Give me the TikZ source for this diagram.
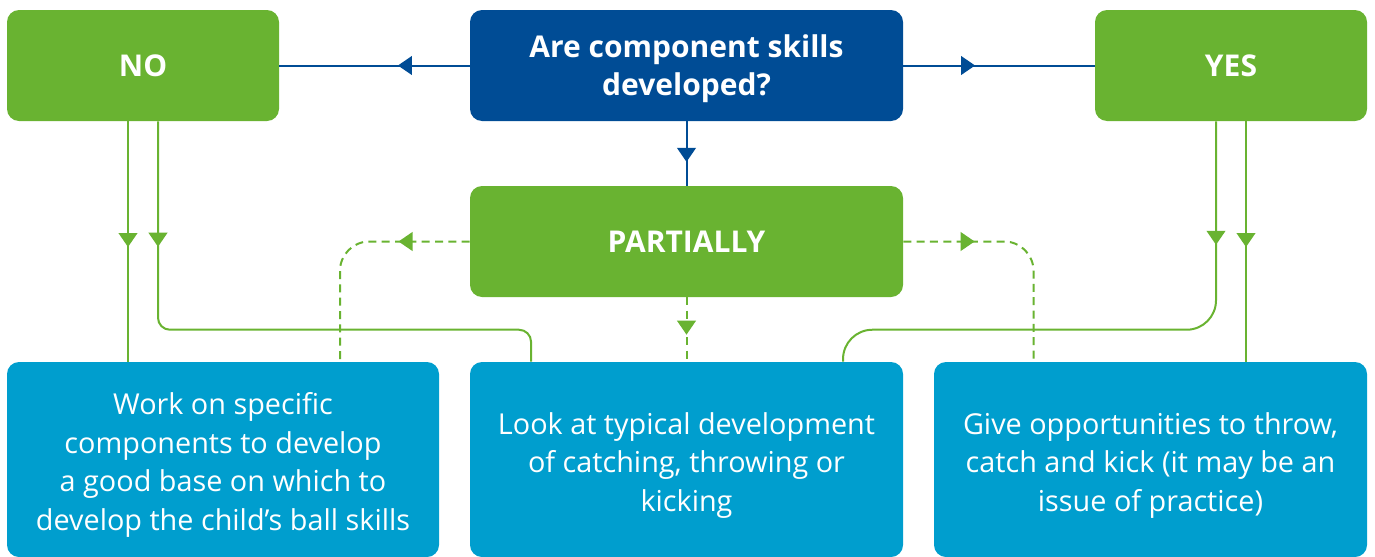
\documentclass[tikz,border=0pt]{standalone}
\usepackage{fontspec}
\setmainfont{Open Sans}
\usetikzlibrary{positioning}
\usetikzlibrary{arrows.meta}
\usetikzlibrary{decorations.markings}
\definecolor{leafgreen}{HTML}{69B331}
\definecolor{linegreen}{HTML}{8DC35B}
\definecolor{navyblue}{HTML}{004C95}
\definecolor{lineblue}{HTML}{1F4F9B}
\definecolor{skyblue}{HTML}{009ECE}
\newcommand{\tilestrut}[1]{\rule{0pt}{#1}}

\tikzset{
    tile/.style={rounded corners=9pt, text=white, align=center, inner sep=0pt},
    greentile/.style={tile, fill=leafgreen, minimum height=83.25pt, font=\fontsize{22.5}{28.5}\selectfont\bfseries},
    navytile/.style={tile, fill=navyblue, minimum height=83.25pt, font=\fontsize{22.5}{28.5}\selectfont\bfseries},
    skytile/.style={tile, fill=skyblue, minimum width=324pt, minimum height=146.25pt, font=\fontsize{21.6}{28.9}\selectfont},
    midtip/.style={postaction={decorate, decoration={markings,
        mark=at position #1 with {\arrow{Triangle[width=14pt,length=10.5pt]}}}}},
    blueline/.style={draw=lineblue, line width=1.5pt, color=navyblue},
    greenline/.style={draw=linegreen, line width=1.5pt, color=leafgreen},
    greendash/.style={greenline, dash pattern=on 6pt off 4pt},
}

\begin{document}
\begin{tikzpicture}[x=0.75pt, y=-0.75pt]
    \useasboundingbox (0,0) rectangle (1375,557);

    % answers and question
    \node[greentile, minimum width=204pt] (no) at (143,65.5) {NO};
    \node[navytile, minimum width=324.75pt] (ask) at (686.5,65.5) {\tilestrut{22pt}Are component skills\\developed?};
    \node[greentile, minimum width=204pt] (yes) at (1231,65.5) {YES};
    \node[greentile, minimum width=324.75pt] (part) at (686.5,241.5) {PARTIALLY};

    % what to do
    \node[skytile] (work) at (223,459.5) {\tilestrut{25pt}Work on specific\\components to develop\\a good base on which to\\develop the child's ball skills};
    \node[skytile, minimum width=324.75pt] (look) at (686.5,459.5) {\tilestrut{25pt}Look at typical development\\of catching, throwing or\\kicking};
    \node[skytile, minimum width=324.75pt] (give) at (1150.5,459.5) {\tilestrut{25pt}Give opportunities to throw,\\catch and kick (it may be an\\issue of practice)};

    % blue arrows
    \draw[blueline, midtip=0.377] (ask.west) -- (no.east);
    \draw[blueline, midtip=0.375] (ask.east) -- (yes.west);
    \draw[blueline, midtip=0.63] (ask.south) -- (part.north);

    % NO branch
    \draw[greenline, midtip=0.523] ([xshift=-11.25pt]no.south) -- ([xshift=-11.25pt]no.south |- work.north);
    \draw[greenline, midtip=0.208] ([xshift=11.25pt]no.south) [rounded corners=9pt] |- ([xshift=-116.6pt,yshift=24pt]look.north) [rounded corners=6pt] -- ([xshift=-116.6pt]look.north);

    % YES branch
    \draw[greenline, midtip=0.523] ([xshift=11.25pt]yes.south) -- ([xshift=11.25pt]yes.south |- give.north);
    \draw[greenline, midtip=0.21] ([xshift=-11.25pt]yes.south) [rounded corners=22pt] |- ([xshift=117.4pt,yshift=24pt]look.north) [rounded corners=6pt] -- ([xshift=117.4pt]look.north);

    % PARTIALLY branch
    \draw[greendash, rounded corners=22pt, midtip=0.3] (part.west) -| ([xshift=87.75pt]work.north);
    \draw[greendash, rounded corners=22pt, midtip=0.3] (part.east) -| ([xshift=-87.75pt]give.north);
    \draw[greendash, midtip=0.58] (part.south) -- (look.north);
\end{tikzpicture}
\end{document}
